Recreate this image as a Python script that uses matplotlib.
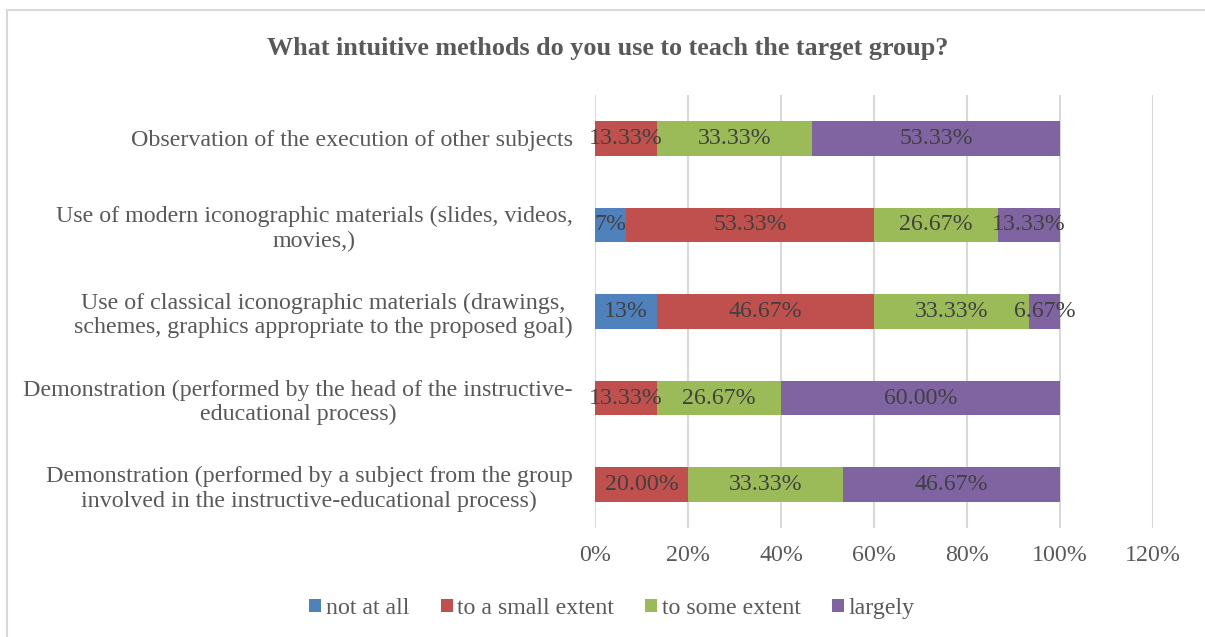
import numpy as np
import matplotlib
matplotlib.use('Agg')
from matplotlib import pyplot as plt

plt.rcParams['font.family'] = ['Liberation Serif', 'DejaVu Serif']

# categories from top to bottom
categories = [
    'Observation of the execution of other subjects',
    'Use of modern iconographic materials (slides, videos,\nmovies,)',
    'Use of classical iconographic materials (drawings,\nschemes, graphics appropriate to the proposed goal)',
    'Demonstration (performed by the head of the instructive-\neducational process)',
    'Demonstration (performed by a subject from the group\ninvolved in the instructive-educational process)',
]
series = ['not at all', 'to a small extent', 'to some extent', 'largely']
not_at_all = [0.0, 6.67, 13.33, 0.0, 0.0]
small_extent = [13.33, 53.33, 46.67, 13.33, 20.00]
some_extent = [33.33, 26.67, 33.33, 26.67, 33.33]
largely = [53.33, 13.33, 6.67, 60.00, 46.67]
colors = ['#4F81BD', '#C0504D', '#9BBB59', '#8064A2']
values = [not_at_all, small_extent, some_extent, largely]

fig = plt.figure(figsize=(12.05, 6.37), dpi=100)
ax = fig.add_axes([0.4938, 0.1711, 0.9568 - 0.4938, 0.8509 - 0.1711])

y = np.arange(len(categories))
left = np.zeros(len(categories))
for j, (name, vals) in enumerate(zip(series, values)):
    vals = np.array(vals) / 100
    ax.barh(y, vals, left=left, height=0.4, color=colors[j], label=name, zorder=2)
    for i, v in enumerate(vals):
        if v == 0:
            continue
        if j == 0:
            txt = '%d%%' % round(v * 100)
        else:
            txt = '%.2f%%' % (v * 100)
        ax.text(left[i] + v / 2, y[i], txt, ha='center', va='center',
                fontsize=17.2, color='#404040', zorder=3)
    left += vals

ax.set_xlim(0, 1.2)
ax.set_ylim(len(categories) - 0.5, -0.5)
ax.set_xticks(np.arange(0, 1.21, 0.2))
ax.set_xticklabels(['%d%%' % t for t in range(0, 121, 20)])
ax.set_yticks(y)
ax.set_yticklabels(categories, multialignment='center')
ax.tick_params(axis='both', length=0, labelsize=17.3, colors='#595959')
ax.tick_params(axis='y', pad=16)
ax.tick_params(axis='x', pad=12)
ax.grid(axis='x', color='#D9D9D9', linewidth=1.5, zorder=0)
for s in ax.spines.values():
    s.set_visible(False)

fig.text(0.5045, 1 - 48 / 637, 'What intuitive methods do you use to teach the target group?',
         ha='center', va='center', fontsize=18.8, fontweight='bold', color='#595959')

fig.legend(loc='center', bbox_to_anchor=(0.508, 0.045), ncol=4, frameon=False,
           fontsize=17.2, labelcolor='#595959', handlelength=0.5, handleheight=0.5,
           handletextpad=0.2, columnspacing=1.3)

# outer chart border (top and left only visible)
fig.add_artist(plt.Line2D([7 / 1205, 1], [1 - 10 / 637, 1 - 10 / 637],
                          transform=fig.transFigure, color='#D9D9D9', linewidth=1.5))
fig.add_artist(plt.Line2D([7 / 1205, 7 / 1205], [0, 1 - 10 / 637],
                          transform=fig.transFigure, color='#D9D9D9', linewidth=1.5))

fig.savefig('out.png', dpi=100)
